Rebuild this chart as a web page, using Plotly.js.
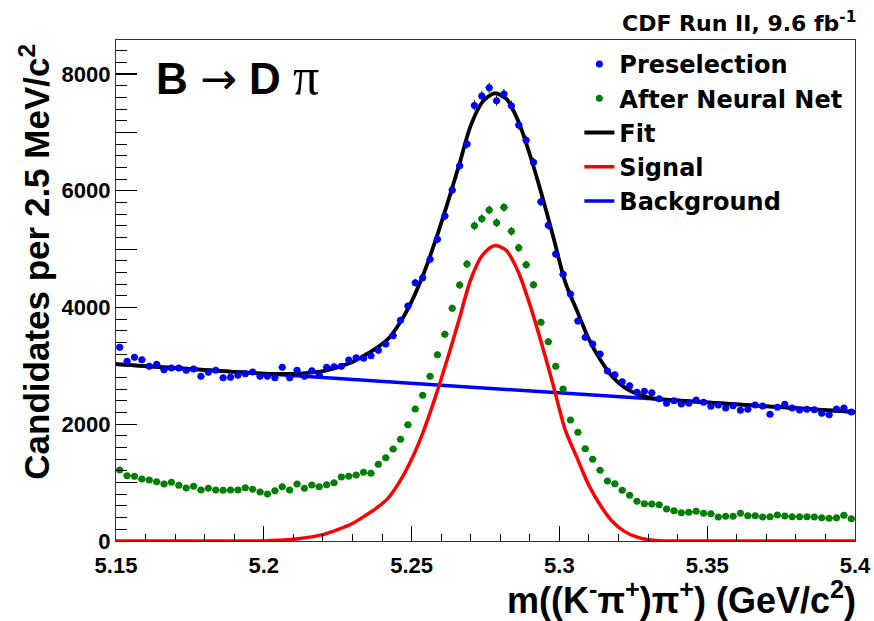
<!DOCTYPE html>
<html>
<head>
<meta charset="utf-8">
<script src="https://cdn.plot.ly/plotly-3.0.1.min.js"></script>
<style>html,body{margin:0;padding:0;background:#fff;}#chart{width:874px;height:621px;}</style>
</head>
<body>
<div id="chart"></div>
<script>
// Histogram binning (GeV/c^2)
const histMin = 5.15;
const histMax = 5.4;
const binWidth = 0.0025;

// Candidates per bin, preselection (blue)
const preselection = [
  3318, 3078, 3147, 3106, 2992, 3026, 2934, 2963, 2963, 2924,
  2946, 2821, 2890, 2924, 2797, 2804, 2838, 2866, 2895, 2821,
  2821, 2797, 2975, 2797, 2924, 2821, 2917, 2843, 2975, 2985,
  2992, 3100, 3140, 3130, 3175, 3267, 3375, 3517, 3780, 4026,
  4425, 4510, 4825, 5168, 5567, 6013, 6429, 6801, 7463, 7623,
  7765, 7543, 7660, 7457, 7126, 6864, 6487, 5812, 5408, 4916,
  4568, 4231, 3769, 3489, 3375, 3203, 2912, 2849, 2729, 2660,
  2547, 2564, 2540, 2438, 2359, 2403, 2347, 2359, 2415, 2376,
  2307, 2330, 2278, 2318, 2239, 2256, 2330, 2313, 2170, 2290,
  2342, 2278, 2244, 2256, 2249, 2187, 2164, 2261, 2278, 2210
];

// Candidates per bin, after neural net (green)
const afterNN = [
  1216, 1119, 1108, 1062, 1045, 1016, 976, 1005, 954, 908,
  937, 874, 903, 874, 868, 874, 874, 914, 885, 839,
  805, 862, 931, 874, 976, 903, 959, 931, 965, 999,
  1098, 1108, 1131, 1177, 1160, 1314, 1427, 1576, 1742, 1992,
  2261, 2496, 2821, 3191, 3541, 3986, 4385, 4745, 5401, 5521,
  5670, 5452, 5716, 5305, 5024, 4733, 4391, 3746, 3414, 2992,
  2604, 2075, 1862, 1581, 1400, 1211, 1028, 982, 868, 783,
  680, 639, 634, 622, 548, 519, 485, 491, 508, 474,
  468, 411, 423, 423, 474, 434, 434, 411, 417, 445,
  428, 417, 417, 417, 411, 400, 388, 400, 440, 383
];

// Fit curves
const curveMass = [
  5.150, 5.160, 5.170, 5.180, 5.190, 5.200, 5.205, 5.210, 5.215, 5.220,
  5.225, 5.230, 5.2345, 5.238, 5.242, 5.246, 5.250, 5.254, 5.258, 5.262,
  5.266, 5.270, 5.274, 5.278, 5.282, 5.286, 5.290, 5.294, 5.298, 5.302,
  5.306, 5.310, 5.314, 5.318, 5.322, 5.326, 5.330, 5.334, 5.340, 5.350,
  5.360, 5.370, 5.380, 5.390, 5.400
];
const signalCurve = [
  0, 0, 0, 0, 0, 2, 12, 29, 62, 110,
  195, 300, 440, 560, 730, 1020, 1400, 1880, 2460, 3100,
  3780, 4480, 4900, 5060, 4980, 4620, 4050, 3380, 2650, 1900,
  1420, 950, 600, 330, 165, 70, 22, 4, 0, 0,
  0, 0, 0, 0, 0
];
const backgroundCurve = [
  3030, 2997, 2964, 2932, 2899, 2866, 2850, 2833, 2817, 2800,
  2784, 2768, 2753, 2741, 2728, 2715, 2702, 2689, 2676, 2663,
  2650, 2636, 2623, 2610, 2597, 2584, 2571, 2558, 2545, 2531,
  2518, 2505, 2492, 2479, 2466, 2453, 2440, 2427, 2407, 2374,
  2341, 2308, 2276, 2243, 2210
];
const fitCurve = [
  3030, 2997, 2964, 2932, 2899, 2868, 2862, 2862, 2879, 2910,
  2979, 3068, 3193, 3301, 3458, 3735, 4102, 4569, 5136, 5763,
  6430, 7116, 7523, 7670, 7577, 7204, 6621, 5938, 5195, 4431,
  3938, 3455, 3092, 2809, 2631, 2523, 2462, 2431, 2407, 2374,
  2341, 2308, 2276, 2243, 2210
];

const yTickVals = [0, 2000, 4000, 6000, 8000];
const yTickText = ['0', '2000', '4000', '6000', '8000'];
const xTickVals = [5.15, 5.2, 5.25, 5.3, 5.35, 5.4];
const xTickText = ['5.15', '5.2', '5.25', '5.3', '5.35', '5.4'];
const yMax = 8583;

const binCenters = preselection.map((_, i) => histMin + binWidth * (i + 0.5));

const FONT = 'Liberation Sans, Arial, Helvetica, sans-serif';
const WIDE = 'DejaVu Sans, Verdana, sans-serif';

const traces = [
  {
    x: curveMass, y: backgroundCurve, type: 'scatter', mode: 'lines',
    name: 'Background', legendrank: 5,
    line: {color: '#0000ff', width: 3.5}
  },
  {
    x: curveMass, y: signalCurve, type: 'scatter', mode: 'lines',
    name: 'Signal', legendrank: 4,
    line: {color: '#ff0000', width: 3.5, shape: 'spline', smoothing: 0.8}
  },
  {
    x: curveMass, y: fitCurve, type: 'scatter', mode: 'lines',
    name: 'Fit', legendrank: 3,
    line: {color: '#000000', width: 3.8, shape: 'spline', smoothing: 0.8}
  },
  {
    x: binCenters, y: afterNN, type: 'scatter', mode: 'markers',
    name: 'After Neural Net', legendrank: 2,
    marker: {color: '#007f00', size: 7, symbol: 'circle'},
    error_y: {type: 'sqrt', color: '#000', thickness: 1, width: 0},
    error_x: {type: 'constant', value: binWidth / 2, color: '#000', thickness: 1, width: 0}
  },
  {
    x: binCenters, y: preselection, type: 'scatter', mode: 'markers',
    name: 'Preselection', legendrank: 1,
    marker: {color: '#0000ff', size: 7, symbol: 'circle'},
    error_y: {type: 'sqrt', color: '#000', thickness: 1, width: 0},
    error_x: {type: 'constant', value: binWidth / 2, color: '#000', thickness: 1, width: 0}
  },
  {
    // carries the secondary (1000-step) tick axis only
    x: [], y: [], type: 'scatter', mode: 'markers', yaxis: 'y2',
    showlegend: false, hoverinfo: 'skip'
  }
];

const layout = {
  width: 874, height: 621,
  margin: {l: 116, r: 19, t: 40, b: 80, pad: 0},
  paper_bgcolor: '#fff', plot_bgcolor: '#fff',
  font: {family: FONT, color: '#000', size: 22, weight: 'bold'},
  showlegend: true,
  legend: {
    x: 0.627, y: 0.996, xanchor: 'left', yanchor: 'top',
    bgcolor: 'rgba(255,255,255,0)', borderwidth: 0,
    font: {family: WIDE, size: 24, color: '#000', weight: 'bold'},
    traceorder: 'normal', itemwidth: 30
  },
  xaxis: {
    range: [histMin, histMax], showgrid: false, zeroline: false,
    showline: true, mirror: true, linecolor: '#333', linewidth: 1.2,
    ticks: 'inside', ticklen: 15, tickwidth: 1.2, tickcolor: '#000',
    tickmode: 'array', tickvals: xTickVals, ticktext: xTickText,
    ticklabelstandoff: 4,
    tickfont: {family: FONT, size: 22, color: '#000', weight: 'bold'},
    minor: {dtick: 0.01, ticks: 'inside', ticklen: 7.5, tickwidth: 1, tickcolor: '#000', showgrid: false}
  },
  yaxis: {
    range: [0, yMax], showgrid: false, zeroline: false,
    showline: true, mirror: true, linecolor: '#333', linewidth: 1.2,
    ticks: 'inside', ticklen: 21, tickwidth: 1.2, tickcolor: '#000',
    tickmode: 'array', tickvals: yTickVals, ticktext: yTickText,
    tickfont: {family: FONT, size: 22, color: '#000', weight: 'bold'},
    minor: {dtick: 200, ticks: 'inside', ticklen: 11, tickwidth: 1, tickcolor: '#000', showgrid: false}
  },
  yaxis2: {
    overlaying: 'y', side: 'left', anchor: 'x',
    range: [0, yMax], showgrid: false, zeroline: false, showline: false,
    ticks: 'inside', ticklen: 21, tickwidth: 1.2, tickcolor: '#000',
    dtick: 1000, tick0: 0, showticklabels: false
  },
  annotations: [
    {
      xref: 'paper', yref: 'paper', x: -0.11, y: 0.557,
      xanchor: 'center', yanchor: 'middle', textangle: -90, showarrow: false,
      text: 'Candidates per 2.5 MeV/c<sup>2</sup>',
      font: {family: FONT, size: 35, color: '#000', weight: 'bold'}
    },
    {
      xref: 'paper', yref: 'paper', x: 1.004, y: -0.113,
      xanchor: 'right', yanchor: 'middle', showarrow: false,
      text: 'm((K<sup>-</sup>π<sup>+</sup>)π<sup>+</sup>) (GeV/c<sup>2</sup>)',
      font: {family: FONT, size: 36, color: '#000', weight: 'bold'}
    },
    {
      xref: 'paper', yref: 'paper', x: 1.004, y: 1.036,
      xanchor: 'right', yanchor: 'middle', showarrow: false,
      text: 'CDF Run II, 9.6 fb<sup>-1</sup>',
      font: {family: WIDE, size: 22, color: '#000', weight: 'bold'}
    },
    {
      xref: 'paper', yref: 'paper', x: 0.052, y: 0.928,
      xanchor: 'left', yanchor: 'middle', showarrow: false,
      text: 'B <span style="font-weight:normal;font-family:DejaVu Sans">→</span> D <span style="font-weight:normal;font-family:Liberation Serif;font-size:52px">π</span>',
      font: {family: FONT, size: 44, color: '#000', weight: 'bold'}
    }
  ]
};

Plotly.newPlot('chart', traces, layout, {displayModeBar: false, staticPlot: true});
</script>
</body>
</html>
